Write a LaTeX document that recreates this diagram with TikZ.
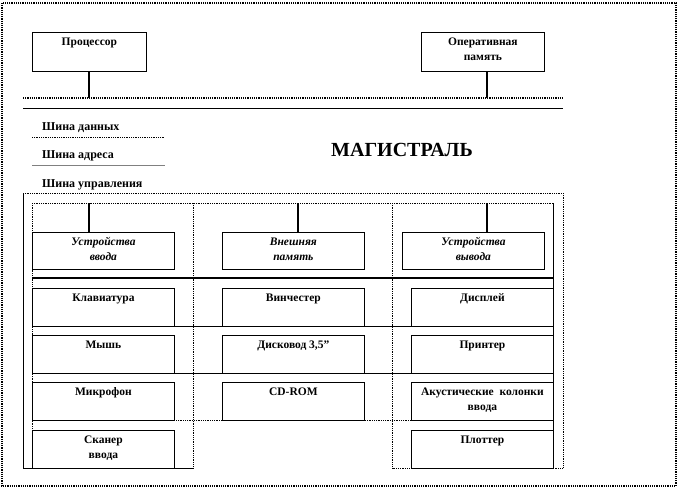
\documentclass[tikz,border=0pt]{standalone}
\usepackage{fontspec}
\setmainfont{Liberation Serif}
\newcommand\bx[3]{\parbox[t][#2pt][t]{#1pt}{\centering\rule{0pt}{13pt}#3}}
\tikzset{
  box/.style={draw, line width=0.8pt, inner sep=0pt, anchor=north west,
    font=\bfseries\fontsize{11.5}{15.5}\selectfont},
  ibox/.style={box, font=\bfseries\itshape\fontsize{11.5}{15.5}\selectfont},
  conn/.style={line width=2pt},
  dotl/.style={line width=0.8pt, densely dotted},
  solidl/.style={line width=0.8pt},
  outer/.style={line width=1.2pt, densely dotted},
  lbl/.style={anchor=base west, inner sep=0pt, font=\bfseries\fontsize{12}{14}\selectfont},
  title/.style={inner sep=0pt, font=\bfseries\fontsize{20}{24}\selectfont}
}
\begin{document}
\begin{tikzpicture}[x=1pt,y=-1pt]
\useasboundingbox (0,0) rectangle (679,490);
\draw[outer] (2,3) rectangle (676,486);
% top units
\node[box] (proc) at (32,32) {\bx{114}{39}{Процессор}};
\node[box] (ram) at (421,32) {\bx{123}{39}{Оперативная\\память}};
% bus
\coordinate (busL) at (23,98);
\coordinate (busR) at (563,98);
\coordinate (bus2L) at (23,108);
\coordinate (bus2R) at (563,108);
\draw[line width=1.2pt, densely dotted] (busL) -- (busR);
\draw[solidl] (bus2L) -- (bus2R);
\coordinate (pc) at (89,98);
\coordinate (rc) at (487,98);
\draw[conn] (proc.south -| pc) -- (pc);
\draw[conn] (ram.south -| rc) -- (rc);
% bus labels
\node[lbl] (sd) at (42,130) {Шина данных};
\draw[dotl] (32,137) -- (165,137);
\node[lbl] (sa) at (42,158) {Шина адреса};
\draw[line width=0.8pt, gray] (32,165) -- (165,165);
\node[lbl] (su) at (42,187) {Шина управления};
\node[title] (mag) at (402,150) {МАГИСТРАЛЬ};
% frame
\draw[dotl] (23,193) -- (563,193);
\draw[solidl] (23,193) -- (23,468) -- (193,468);
\draw[dotl] (563,193) -- (563,468) -- (392,468);
\draw[dotl] (32,203) -- (553,203);
\draw[dotl] (193,203) -- (193,468);
\draw[dotl] (392,203) -- (392,468);
\draw[dotl] (32,203) -- (32,468);
\draw[solidl] (553,203) -- (553,468);
\draw[line width=2pt] (32,278) -- (553,278);
\draw[solidl] (32,326) -- (553,326);
\draw[solidl] (32,373) -- (553,373);
\draw[dotl] (32,420) -- (553,420);
% header boxes
\node[ibox] (in) at (32,232) {\bx{142}{37}{Устройства\\ввода}};
\node[ibox] (ext) at (222,232) {\bx{142}{37}{Внешняя\\память}};
\node[ibox] (out) at (402,232) {\bx{142}{37}{Устройства\\вывода}};
\coordinate (c1) at (89,203);
\coordinate (c2) at (298,203);
\coordinate (c3) at (487,203);
\draw[conn] (c1) -- (c1 |- in.north);
\draw[conn] (c2) -- (c2 |- ext.north);
\draw[conn] (c3) -- (c3 |- out.north);
% device boxes
\node[box] (kbd) at (32,288) {\bx{142}{38}{Клавиатура}};
\node[box] (mouse) at (32,335) {\bx{142}{38}{Мышь}};
\node[box] (mic) at (32,382) {\bx{142}{38}{Микрофон}};
\node[box] (scan) at (32,430) {\bx{142}{38}{Сканер\\ввода}};
\node[box] (hdd) at (222,288) {\bx{142}{38}{Винчестер}};
\node[box] (fdd) at (222,335) {\bx{142}{38}{Дисковод 3,5”}};
\node[box] (cd) at (222,382) {\bx{142}{38}{CD-ROM}};
\node[box] (disp) at (411,288) {\bx{142}{38}{Дисплей}};
\node[box] (prn) at (411,335) {\bx{142}{38}{Принтер}};
\node[box] (spk) at (411,382) {\bx{142}{38}{Акустические\ \ колонки\\ввода}};
\node[box] (plot) at (411,430) {\bx{142}{38}{Плоттер}};
\end{tikzpicture}
\end{document}
